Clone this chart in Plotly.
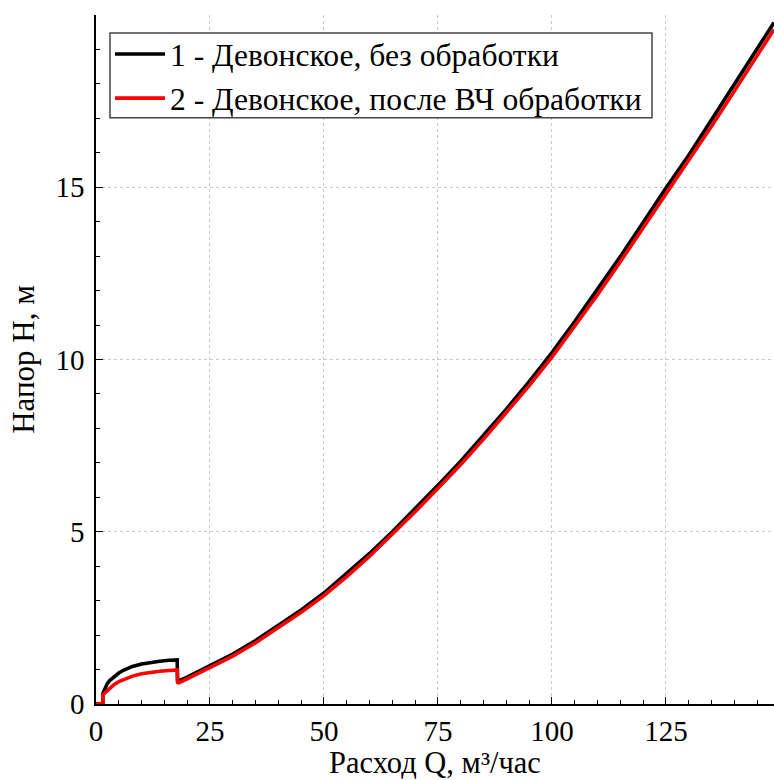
import plotly.graph_objects as go

# Напорная характеристика: расход Q (м³/час) -> напор H (м)
q_untreated = [0, 1.5, 1.5, 2, 2.5, 3, 4, 5, 6, 8, 10, 12, 14, 16, 17.8, 17.9,
               18, 20, 25, 30, 35, 40, 45, 50, 55, 60, 65, 70, 75, 80, 85, 90,
               95, 100, 105, 110, 115, 120, 125, 130, 135, 140, 145, 148.7]
h_untreated = [0, 0, 0.30, 0.48, 0.60, 0.68, 0.80, 0.90, 0.98, 1.09, 1.16, 1.21,
               1.24, 1.27, 1.28, 0.64,
               0.66, 0.78, 1.11, 1.45, 1.84, 2.27, 2.73, 3.22, 3.78, 4.37, 5.00,
               5.66, 6.35, 7.05, 7.79, 8.56, 9.36, 10.20, 11.10, 12.03, 12.99,
               13.98, 14.98, 15.93, 16.95, 17.98, 19.02, 19.78]

q_treated = [0, 1.5, 1.5, 2, 2.5, 3, 4, 5, 6, 8, 10, 12, 14, 16, 17.8, 17.9,
             18, 20, 25, 30, 35, 40, 45, 50, 55, 60, 65, 70, 75, 80, 85, 90,
             95, 100, 105, 110, 115, 120, 125, 130, 135, 140, 145, 148.7]
h_treated = [0, 0, 0.27, 0.33, 0.40, 0.46, 0.57, 0.65, 0.71, 0.81, 0.88, 0.92,
             0.95, 0.97, 0.99, 0.60,
             0.61, 0.73, 1.05, 1.39, 1.78, 2.21, 2.66, 3.15, 3.70, 4.29, 4.92,
             5.58, 6.26, 6.95, 7.69, 8.45, 9.24, 10.07, 10.96, 11.88, 12.84,
             13.82, 14.82, 15.76, 16.77, 17.79, 18.82, 19.58]

x_ticks = [0, 25, 50, 75, 100, 125]
y_ticks = [0, 5, 10, 15]

FONT = "Liberation Serif"

# plot area in pixels (used for placing the legend frame)
L, T, W, H = 96, 15, 678, 691

fig = go.Figure()
fig.add_trace(go.Scatter(
    x=q_untreated, y=h_untreated, mode="lines",
    name="1 - Девонское, без обработки",
    line=dict(color="#000000", width=3.6),
))
fig.add_trace(go.Scatter(
    x=q_treated, y=h_treated, mode="lines",
    name="2 - Девонское, после ВЧ обработки",
    line=dict(color="#ff0000", width=3.6),
))

axis_common = dict(
    showline=True, linecolor="#000000", linewidth=1.5,
    ticks="inside", ticklen=7, tickwidth=1.2, tickcolor="#000000",
    showgrid=True, gridcolor="#c8c8c8", gridwidth=1, griddash="dot",
    zeroline=False,
    tickfont=dict(family=FONT, size=29, color="#000000"),
    mirror=False,
)

fig.update_xaxes(
    range=[0, 148.7], tickvals=x_ticks,
    minor=dict(dtick=5, ticks="inside", ticklen=4, tickcolor="#000000",
               tickwidth=1.2, showgrid=False),
    title=dict(text="Расход Q, м³/час", font=dict(family=FONT, size=30.5, color="#000000"),
               standoff=12),
    **axis_common,
)
fig.update_yaxes(
    range=[0, 20], tickvals=y_ticks,
    minor=dict(dtick=1, ticks="inside", ticklen=4, tickcolor="#000000",
               tickwidth=1.2, showgrid=False),
    title=dict(text="Напор H, м", font=dict(family=FONT, size=31, color="#000000"),
               standoff=12),
    ticklabelstandoff=4,
    **axis_common,
)

# legend frame
fig.add_shape(
    type="rect", xref="paper", yref="paper",
    x0=(110 - L) / W, x1=(652 - L) / W,
    y0=(T + H - 118) / H, y1=(T + H - 33) / H,
    line=dict(color="#444444", width=1.5), fillcolor="#ffffff",
    layer="above",
)

fig.update_layout(
    width=774, height=780,
    margin=dict(l=L, r=0, t=T, b=780 - T - H),
    plot_bgcolor="#ffffff", paper_bgcolor="#ffffff",
    showlegend=True,
    legend=dict(
        x=(110 - L) / W, y=(T + H - 27) / H, xanchor="left", yanchor="top",
        bgcolor="rgba(0,0,0,0)", borderwidth=0,
        font=dict(family=FONT, size=31.6, color="#000000"),
        tracegroupgap=0, itemwidth=50,
    ),
)

fig.write_html("out.html")
